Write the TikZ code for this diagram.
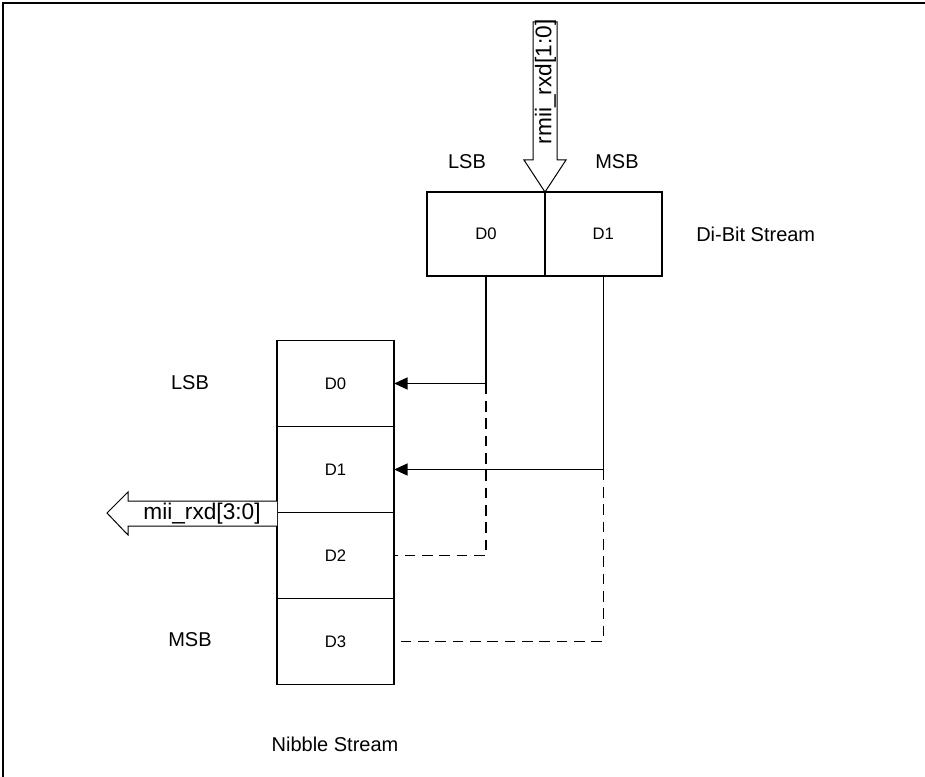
\documentclass[tikz,border=0pt]{standalone}
\usepackage{fontspec}
\setmainfont{Liberation Sans}
\usetikzlibrary{positioning,arrows.meta,calc}

\tikzset{
  bitbox/.style={draw, line width=1.4pt, outer sep=0pt, inner sep=0pt, minimum width=88pt, minimum height=63.5pt, font=\fontsize{12.5}{15}\selectfont},
  nibbox/.style={bitbox, minimum height=64.5pt},
  lbl/.style={font=\fontsize{15}{18}\selectfont, inner sep=0pt},
  buslbl/.style={font=\fontsize{17}{20}\selectfont, inner sep=0pt},
  wire/.style={line width=0.9pt},
  busarrow/.style={draw, line width=0.75pt, fill=white},
}

\begin{document}
\begin{tikzpicture}[x=0.75pt, y=-0.75pt, >={Triangle[length=10pt,width=9pt]}]
  \useasboundingbox (0,0) rectangle (925,777);
  \draw[line width=1.2pt] (3,777) -- (3,3) -- (925,3);

  % di-bit stream
  \node[bitbox] (t0) at (486,234) {D0};
  \node[bitbox, right=0pt of t0] (t1) {D1};
  \node[lbl] (tlsb) at (467,162) {LSB};
  \node[lbl] (tmsb) at (617,162) {MSB};
  \node[lbl, anchor=west] (tname) at (696,234) {Di-Bit Stream};

  % input bus
  \draw[busarrow] (533,22) -- (557,22) -- (557,160) -- (566,160) -- (545,192)
    -- (524,160) -- (533,160) -- cycle;
  \node[buslbl, rotate=90] (tin) at (545.5,82) {rmii\_rxd[1:0]};

  % nibble stream
  \node[nibbox] (n0) at (335.5,383.5) {D0};
  \node[nibbox, below=0pt of n0] (n1) {D1};
  \node[nibbox, below=0pt of n1] (n2) {D2};
  \node[nibbox, below=0pt of n2] (n3) {D3};
  \node[lbl] (nlsb) at (190,383) {LSB};
  \node[lbl] (nmsb) at (190,640) {MSB};
  \node[lbl] (nname) at (335,744) {Nibble Stream};

  % output bus
  \draw[busarrow] (277,501) -- (128,501) -- (128,492) -- (107,513) -- (128,535)
    -- (128,526) -- (277,526);
  \node[buslbl] (nout) at (202,514) {mii\_rxd[3:0]};

  % connections
  \draw[wire, ->] (t0.south) |- (n0.east);
  \draw[wire, ->] (t1.south) |- (n1.east);
  \draw[wire, dash pattern=on 8pt off 5pt] (t0.south |- n0.east) |- (n2.east);
  \draw[wire, dash pattern=on 8pt off 5pt] (t1.south |- n1.east) |- (n3.east);
\end{tikzpicture}
\end{document}
